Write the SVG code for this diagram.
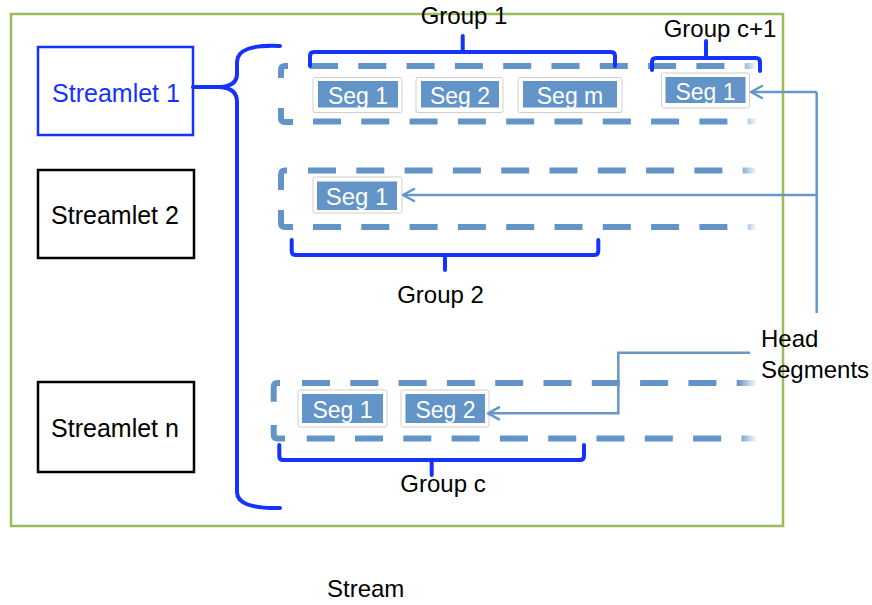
<svg xmlns="http://www.w3.org/2000/svg" width="872" height="605" viewBox="0 0 872 605">
<style>
text{font-family:"Liberation Sans",Arial,sans-serif;}
.lbl{font-size:24px;fill:#000;}
.sl{font-size:25px;text-anchor:middle;}
.segt{font-size:23px;fill:#fff;text-anchor:middle;}
.frame{fill:#fff;stroke:#cfcfcf;stroke-width:1;}
.seg{fill:#6294c8;}
.dash{fill:none;stroke:url(#fade);stroke-width:6;stroke-dasharray:28 20.3;}
.corner{fill:none;stroke:#6394c8;stroke-width:6;}
.brk{fill:none;stroke:#1433ff;stroke-width:4;stroke-linecap:round;stroke-linejoin:round;}
.conn{fill:none;stroke:#6796cb;stroke-width:2.5;}
</style>
<defs>
<linearGradient id="fade" gradientUnits="userSpaceOnUse" x1="738" y1="0" x2="757" y2="0">
<stop offset="0" stop-color="#6394c8" stop-opacity="1"/>
<stop offset="1" stop-color="#6394c8" stop-opacity="0"/>
</linearGradient>
<marker id="chev" markerUnits="userSpaceOnUse" markerWidth="16" markerHeight="16" viewBox="0 0 16 16" refX="13" refY="8" orient="auto">
<path d="M2,2 L13,8 L2,14" fill="none" stroke="#6796cb" stroke-width="2.5" stroke-linecap="round" stroke-linejoin="round"/>
</marker>
</defs>
<rect width="872" height="605" fill="#fff"/>

<g id="stream">
<rect x="11" y="14" width="772" height="512" fill="none" stroke="#9bbb59" stroke-width="2.5"/>
<text class="lbl" x="327" y="597">Stream</text>
</g>

<g id="streamlet1">
<rect x="38" y="47" width="155" height="88" fill="#fff" stroke="#1433ff" stroke-width="2.5"/>
<text class="sl" x="116" y="102" fill="#1433ff">Streamlet 1</text>
</g>
<g id="streamlet2">
<rect x="38" y="170" width="156" height="88" fill="#fff" stroke="#000" stroke-width="2.5"/>
<text class="sl" x="115" y="224" fill="#000">Streamlet 2</text>
</g>
<g id="streamletn">
<rect x="38" y="382" width="156" height="90" fill="#fff" stroke="#000" stroke-width="2.5"/>
<text class="sl" x="115" y="437" fill="#000">Streamlet n</text>
</g>

<g id="row1">
<path class="corner" d="M281 78 V70 Q281 66 285 66 H288"/>
<path class="corner" d="M281 108 V118 Q281 122 285 122 H293"/>
<path class="dash" d="M310 66 H760"/>
<path class="dash" d="M313 121.5 H760"/>
</g>
<g id="row2">
<path class="corner" d="M281 190 V174.5 Q281 170.5 285 170.5 H287"/>
<path class="corner" d="M281 210 V223 Q281 227 285 227 H293"/>
<path class="dash" d="M308 170.5 H760"/>
<path class="dash" d="M313 227 H760"/>
</g>
<g id="row3">
<path class="corner" d="M273.7 401.7 V387 Q273.7 383 277.7 383 H280"/>
<path class="corner" d="M273.7 425 V434.5 Q273.7 438.5 277.7 438.5 H285"/>
<path class="dash" d="M302 383 H760"/>
<path class="dash" d="M306.7 438.5 H760"/>
</g>

<g id="g1-seg1"><rect class="frame" x="313" y="77.5" width="89" height="35" rx="2"/><rect class="seg" x="318" y="81" width="80" height="26.5"/><text class="segt" x="358" y="104">Seg 1</text></g>
<g id="g1-seg2"><rect class="frame" x="416" y="77.5" width="87" height="35" rx="2"/><rect class="seg" x="421" y="81" width="78" height="26.5"/><text class="segt" x="460" y="104">Seg 2</text></g>
<g id="g1-segm"><rect class="frame" x="518" y="77.5" width="104" height="35" rx="2"/><rect class="seg" x="523" y="81" width="94" height="26.5"/><text class="segt" x="570" y="104">Seg m</text></g>
<g id="gc1-seg1"><rect class="frame" x="661.5" y="73" width="88" height="35" rx="2"/><rect class="seg" x="665.5" y="77" width="80" height="26"/><text class="segt" x="705.5" y="100">Seg 1</text></g>
<g id="g2-seg1"><rect class="frame" x="313" y="177" width="89" height="36" rx="2"/><rect class="seg" x="317" y="181.5" width="80" height="28.5"/><text class="segt" x="357" y="205" style="font-size:24px">Seg 1</text></g>
<g id="gc-seg1"><rect class="frame" x="298" y="390" width="89" height="37" rx="2"/><rect class="seg" x="302" y="394" width="81" height="29"/><text class="segt" x="342.5" y="418">Seg 1</text></g>
<g id="gc-seg2"><rect class="frame" x="401" y="390" width="88" height="37" rx="2"/><rect class="seg" x="405.5" y="394" width="79.5" height="29"/><text class="segt" x="445.5" y="418">Seg 2</text></g>

<g id="brackets">
<path class="brk" d="M280 46 Q237 44 237 62 V74 Q237 86 220 87 H193 M220 87 Q237 88 237 102 V492 Q237 509 280 508" stroke-width="4.5"/>
<path class="brk" d="M310 66 V56 Q310 52 314 52 H611 Q615 52 615 56 V66 M462.7 52 V36"/>
<path class="brk" d="M652 70 V62 Q652 58 656 58 H756 Q760 58 760 62 V71 M706 58 V41"/>
<path class="brk" d="M291.7 240 V251 Q291.7 255 295.7 255 H594.3 Q598.3 255 598.3 251 V240 M445 255 V270"/>
<path class="brk" d="M279.3 445 V456 Q279.3 460 283.3 460 H580 Q584 460 584 456 V445 M431.7 460 V475"/>
</g>

<g id="labels">
<text class="lbl" x="464" y="24" text-anchor="middle">Group 1</text>
<text class="lbl" x="720" y="37" text-anchor="middle">Group c+1</text>
<text class="lbl" x="440.5" y="303" text-anchor="middle">Group 2</text>
<text class="lbl" x="443" y="492" text-anchor="middle">Group c</text>
</g>

<g id="head-segments">
<text class="lbl" x="761" y="347">Head</text>
<text class="lbl" x="761" y="378">Segments</text>
</g>

<g id="connectors">
<path class="conn" d="M816.7 313 V92"/>
<path class="conn" d="M816.7 92 H751" marker-end="url(#chev)"/>
<path class="conn" d="M816.7 195 H403" marker-end="url(#chev)"/>
<path class="conn" d="M750 352.7 H618.3 V413.3 H488" marker-end="url(#chev)"/>
</g>
</svg>
